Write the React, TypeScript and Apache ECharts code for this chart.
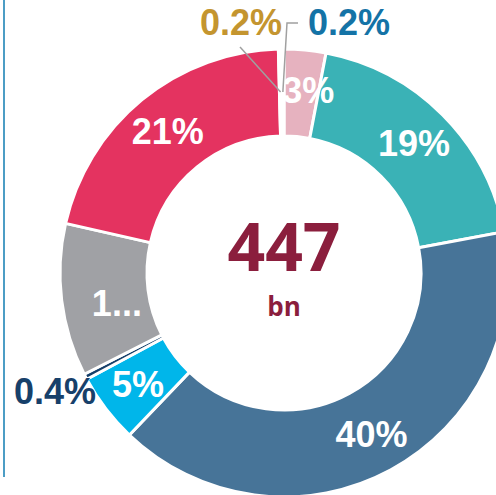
import React, { useEffect, useRef } from 'react';
import * as echarts from 'echarts';

// ---- data ----
const categories = ['Segment A', 'Segment B', 'Segment C', 'Segment D', 'Segment E', 'Segment F', 'Segment G', 'Segment H', 'Segment I'];
const shareValues = [3, 19, 40, 5, 0.4, 11, 21, 0.2, 0.2];
const sliceColors = ['#E6B2BF', '#3AB2B6', '#477498', '#00B6EA', '#17406A', '#A0A1A5', '#E43360', '#C4952F', '#1473A6'];
const outsideIndices = [4, 7, 8];
const totalLabel = '447';
const unitLabel = 'bn';

const CX = 284;
const CY = 273;
const R_IN = 137;
const R_OUT = 224;
const R_MID = 181;
const LABEL_FONT = '"Liberation Sans", Arial, sans-serif';

// point at the middle of the ring, at the mid angle of slice `index`
const ringPoint = (index: number) => {
  const total = shareValues.reduce((a, b) => a + b, 0);
  const before = shareValues.slice(0, index).reduce((a, b) => a + b, 0);
  const frac = (before + shareValues[index] / 2) / total;
  const ang = frac * Math.PI * 2 - Math.PI / 2;
  return [CX + R_MID * Math.cos(ang), CY + R_MID * Math.sin(ang)];
};

export default function App() {
  const ref = useRef<HTMLDivElement>(null);
  useEffect(() => {
    if (!ref.current) return;
    const chart = echarts.init(ref.current, undefined, { renderer: 'svg' });

    const data = shareValues.map((v, i) => {
      const outside = outsideIndices.includes(i);
      return {
        name: categories[i],
        value: v,
        itemStyle: { color: sliceColors[i] },
        label: outside
          ? { position: 'outside', color: sliceColors[i] }
          : i === 5
          ? { position: 'inside', width: 55, overflow: 'truncate', ellipsis: '...' }
          : { position: 'inside' },
        labelLine: { show: false },
      };
    });

    const goldPt = ringPoint(7);
    const bluePt = ringPoint(8);

    chart.setOption({
      animation: false,
      series: [
        {
          type: 'pie',
          center: [CX, CY],
          radius: [R_IN, R_OUT],
          startAngle: 90,
          clockwise: true,
          avoidLabelOverlap: false,
          itemStyle: { borderColor: '#ffffff', borderWidth: 3 },
          label: {
            show: true,
            formatter: (p: any) => `${p.value}%`,
            color: '#ffffff',
            fontFamily: LABEL_FONT,
            fontWeight: 'bold',
            fontSize: 36,
          },
          emphasis: { disabled: true },
          labelLayout: (params: any) => {
            const i = params.dataIndex;
            if (i === 7) return { x: 241, y: 22, align: 'center', verticalAlign: 'middle' };
            if (i === 8) return { x: 349, y: 22, align: 'center', verticalAlign: 'middle' };
            if (i === 4) return { x: 55, y: 391, align: 'center', verticalAlign: 'middle' };
            if (i === 5) return { dx: 15, dy: 8 };
            if (i === 0) return { dx: 7 };
            return {};
          },
          data,
        },
      ],
      graphic: [
        {
          type: 'line',
          shape: { x1: 4, y1: 0, x2: 4, y2: 477 },
          style: { stroke: '#4C9DC5', lineWidth: 2 },
        },
        {
          type: 'polyline',
          z: 100,
          shape: { points: [[240, 47], goldPt] },
          style: { stroke: '#A0A0A0', lineWidth: 1.5, fill: 'none' },
        },
        {
          type: 'polyline',
          z: 100,
          shape: { points: [[298, 23], [287, 23], bluePt] },
          style: { stroke: '#A0A0A0', lineWidth: 1.5, fill: 'none' },
        },
        {
          type: 'text',
          x: CX,
          y: 245,
          style: {
            text: totalLabel,
            fill: '#8B1E3D',
            font: 'bold 66px "Open Sans", sans-serif',
            textAlign: 'center',
            textVerticalAlign: 'middle',
          },
        },
        {
          type: 'text',
          x: CX,
          y: 306,
          style: {
            text: unitLabel,
            fill: '#8B1E3D',
            font: 'bold 26px "Open Sans", sans-serif',
            textAlign: 'center',
            textVerticalAlign: 'middle',
          },
        },
      ],
    });
    return () => chart.dispose();
  }, []);
  return (
    <div
      ref={ref}
      style={{ position: 'absolute', left: 0, top: 0, width: 496, height: 495 }}
    />
  );
}
